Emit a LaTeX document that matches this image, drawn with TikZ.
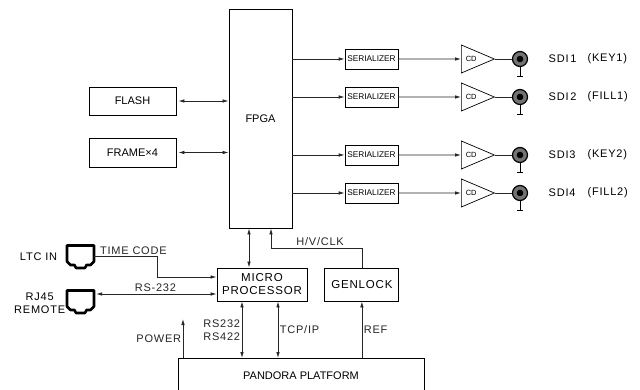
\documentclass[tikz,border=0pt]{standalone}
\usepackage{fontspec}
\setmainfont{Liberation Sans}
\newfontfamily\spaced[LetterSpace=7]{Liberation Sans}
\usetikzlibrary{shapes.geometric,arrows.meta,positioning}

\tikzset{
    jack/.pic={
        \node[minimum width=27pt, minimum height=24pt, inner sep=0] (-b) {};
        \draw[line width=2.6pt, line join=round] (-13.5,-11) -- (13.5,-11) -- (13.5,5) -- (10,8.5) -- (6,8.5) -- (4.5,11.5) -- (-4.5,11.5) -- (-6,8.5) -- (-10,8.5) -- (-13.5,5) -- cycle;
    }
}

\begin{document}
\begin{tikzpicture}[
    x=1pt, y=-1pt,
    >={Latex[length=6pt,width=3.6pt]},
    box/.style={rectangle, draw, line width=0.9pt, inner sep=2pt, align=center, font=\fontsize{11}{13}\selectfont},
    spacedbox/.style={box, font=\spaced\fontsize{11.5}{13}\selectfont},
    serbox/.style={rectangle, draw, line width=0.8pt, minimum width=53pt, minimum height=20pt, inner sep=1pt, font=\fontsize{8.3}{9}\selectfont},
    cdtri/.style={isosceles triangle, isosceles triangle stretches, draw, line width=0.7pt, minimum width=28pt, minimum height=33pt, inner sep=0pt, font=\fontsize{7.5}{8}\selectfont},
    bnc/.style={circle, draw, line width=1.2pt, fill=black!55, minimum size=15pt, inner sep=0pt},
    wire/.style={line width=0.8pt, black!85},
    arrow/.style={wire, ->},
    dblarrow/.style={wire, <->},
    lbl/.style={inner sep=1.5pt, font=\spaced\fontsize{11}{13}\selectfont}
]
\useasboundingbox (0,0) rectangle (640,390);

% FPGA and memories
\node[box, minimum width=63pt, minimum height=219pt] (fpga) at (260.5,118.5) {FPGA};
\node[box, minimum width=87pt, minimum height=28pt] (flash) at (132.5,101) {FLASH};
\node[box, minimum width=87pt, minimum height=29pt] (frame) at (132.5,152.5) {FRAME×4};

\draw[dblarrow, shorten <=2pt] (flash) -- (flash -| fpga.west);
\draw[dblarrow, shorten <=2pt] (frame) -- (frame -| fpga.west);

% SDI outputs
\foreach \i/\y/\sdi/\sig in {1/59/SDI\,1/KEY1, 2/97/SDI\,2/FILL1, 3/155/SDI3/KEY2, 4/193/SDI4/FILL2} {
    \node[serbox] (ser\i) at (371.5,\y) {SERIALIZER};
    \node[cdtri, anchor=lower side] (cd\i) at (461,\y) {CD};
    \node[bnc] (bnc\i) at (520,\y) {};
    \fill (bnc\i.center) circle (3.3pt);
    \draw[line width=1pt] (bnc\i.south) -- ++(0,9);
    \draw[line width=1.6pt] ([yshift=-9.5pt]bnc\i.south) ++(-3,0) -- ++(6,0);
    \node[lbl, anchor=west] (sdi\i) at (547,\y) {\sdi};
    \node[lbl, anchor=west] (sig\i) at (586,\y) {(\sig)};
    \draw[arrow] (fpga.east |- ser\i) -- (ser\i);
    \draw[arrow] (ser\i) -- (cd\i);
    \draw[wire] (cd\i.apex) -- (bnc\i);
}

% Control part
\node[spacedbox, minimum width=90pt, minimum height=33pt] (micro) at (262,284.5) {MICRO\\PROCESSOR};
\node[spacedbox, minimum width=74pt, minimum height=33pt, right=17pt of micro] (genlock) {GENLOCK};
\node[box, minimum width=246pt, minimum height=34pt, anchor=north] (pandora) at (301,358) {PANDORA PLATFORM};

% Jacks
\pic (ltc) at (80.5,256.5) {jack};
\pic (rj) at (80.5,301.5) {jack};
\node[lbl, left=8pt of ltc-b] (ltclbl) {LTC IN};
\node[lbl, align=center, left=0pt of rj-b, yshift=-2pt] (rjlbl) {RJ45\\REMOTE};

% FPGA <-> micro, genlock -> FPGA
\coordinate (fm) at ([xshift=-11.5pt]fpga.south);
\draw[dblarrow] (fm) -- (fm |- micro.north);
\coordinate (hv) at (271,248);
\draw[arrow] (genlock.north) |- node[lbl, above, pos=0.73] {H/V/CLK} (hv) -- (hv |- fpga.south);

% Time code and remote
\coordinate (tc) at (157,277);
\draw[arrow] (ltc-b.east) -| node[lbl, above right, pos=0, xshift=4pt] {TIME CODE} (tc) -- (tc -| micro.west);
\coordinate (rs) at ([yshift=7.5pt]rj-b.east);
\draw[dblarrow, shorten <=2pt] (rs) -- node[lbl, above] {RS-232} (rs -| micro.west);

% Platform links
\coordinate (ml) at ([xshift=-20pt]micro.south);
\coordinate (mr) at ([xshift=16pt]micro.south);
\draw[dblarrow] (ml) -- node[lbl, left, align=center] {RS232\\RS422} (ml |- pandora.north);
\draw[dblarrow] (mr) -- node[lbl, right] {TCP/IP} (mr |- pandora.north);
\draw[arrow] (genlock.south |- pandora.north) -- node[lbl, right] {REF} (genlock.south);
\coordinate (pw) at (183,319);
\draw[arrow] (pw |- pandora.north) -- node[lbl, left] {POWER} (pw);

\end{tikzpicture}
\end{document}
